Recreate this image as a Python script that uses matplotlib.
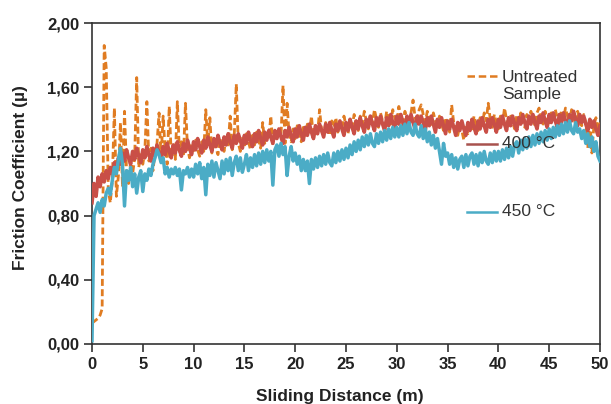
import numpy as np
import matplotlib
matplotlib.use("Agg")
import matplotlib.pyplot as plt
from matplotlib.lines import Line2D

plt.rcParams['font.family'] = ['Liberation Sans', 'DejaVu Sans']

X_STEP = 0.2

untreated = [
    0.13, 0.14, 0.15, 0.16, 0.18, 0.22, 1.86, 1.72, 0.96, 0.88, 1.02, 1.47, 0.92, 1.05, 1.38, 0.98, 1.45, 1.08, 1.00, 1.14, 1.06, 1.16, 1.66, 1.10, 1.18,
    1.12, 1.20, 1.51, 1.14, 1.22, 1.08, 1.19, 1.25, 1.44, 1.16, 1.42, 1.21, 1.12, 1.48, 1.18, 1.24, 1.15, 1.51, 1.20, 1.26, 1.17, 1.50, 1.22, 1.16, 1.25,
    1.19, 1.27, 1.21, 1.17, 1.26, 1.20, 1.46, 1.24, 1.41, 1.19, 1.27, 1.22, 1.18, 1.28, 1.23, 1.20, 1.29, 1.24, 1.42, 1.21, 1.30, 1.62, 1.25, 1.20, 1.29,
    1.23, 1.31, 1.26, 1.21, 1.30, 1.24, 1.32, 1.27, 1.22, 1.38, 1.25, 1.33, 1.28, 1.42, 1.24, 1.32, 1.27, 1.34, 1.29, 1.61, 1.25, 1.50, 1.30, 1.26, 1.34,
    1.28, 1.36, 1.31, 1.26, 1.35, 1.30, 1.37, 1.32, 1.42, 1.28, 1.36, 1.31, 1.46, 1.33, 1.29, 1.38, 1.34, 1.30, 1.39, 1.35, 1.41, 1.32, 1.38, 1.34, 1.42,
    1.36, 1.31, 1.40, 1.35, 1.43, 1.38, 1.33, 1.42, 1.37, 1.45, 1.39, 1.34, 1.43, 1.38, 1.46, 1.40, 1.35, 1.44, 1.39, 1.36, 1.45, 1.40, 1.37, 1.46, 1.41,
    1.38, 1.48, 1.42, 1.37, 1.45, 1.40, 1.36, 1.44, 1.52, 1.41, 1.37, 1.46, 1.49, 1.43, 1.38, 1.45, 1.40, 1.36, 1.44, 1.39, 1.34, 1.42, 1.37, 1.33, 1.41,
    1.36, 1.32, 1.49, 1.38, 1.34, 1.30, 1.37, 1.33, 1.27, 1.35, 1.31, 1.38, 1.34, 1.42, 1.37, 1.33, 1.41, 1.36, 1.44, 1.39, 1.50, 1.40, 1.35, 1.43, 1.38,
    1.34, 1.42, 1.37, 1.47, 1.40, 1.35, 1.43, 1.38, 1.34, 1.42, 1.37, 1.44, 1.39, 1.35, 1.43, 1.38, 1.45, 1.40, 1.36, 1.44, 1.47, 1.41, 1.37, 1.45, 1.40,
    1.36, 1.44, 1.39, 1.46, 1.41, 1.37, 1.45, 1.40, 1.47, 1.42, 1.38, 1.46, 1.41, 1.37, 1.45, 1.40, 1.36, 1.43, 1.38, 1.22, 1.40, 1.19, 1.36, 1.41, 1.33,
    1.38,
]

t400 = [
    0.88, 1.00, 0.92, 1.04, 0.98, 1.06, 1.01, 1.08, 1.03, 1.10, 1.06, 1.13, 1.09, 1.16, 1.12, 1.19, 1.14, 1.21, 1.16, 1.12, 1.20, 1.15, 1.22, 1.17, 1.13,
    1.21, 1.16, 1.23, 1.18, 1.14, 1.22, 1.17, 1.24, 1.19, 1.15, 1.23, 1.18, 1.25, 1.20, 1.16, 1.24, 1.19, 1.26, 1.21, 1.17, 1.25, 1.20, 1.27, 1.22, 1.18,
    1.26, 1.21, 1.28, 1.23, 1.19, 1.27, 1.22, 1.29, 1.24, 1.20, 1.28, 1.23, 1.30, 1.25, 1.21, 1.29, 1.24, 1.31, 1.26, 1.22, 1.30, 1.25, 1.31, 1.27, 1.22,
    1.30, 1.25, 1.32, 1.27, 1.23, 1.31, 1.26, 1.33, 1.28, 1.24, 1.32, 1.27, 1.33, 1.29, 1.25, 1.33, 1.28, 1.34, 1.29, 1.25, 1.33, 1.29, 1.35, 1.30, 1.26,
    1.34, 1.29, 1.36, 1.31, 1.27, 1.35, 1.30, 1.37, 1.32, 1.28, 1.36, 1.31, 1.37, 1.33, 1.29, 1.37, 1.32, 1.38, 1.33, 1.29, 1.37, 1.33, 1.39, 1.34, 1.30,
    1.38, 1.33, 1.40, 1.35, 1.31, 1.39, 1.34, 1.41, 1.36, 1.32, 1.40, 1.35, 1.42, 1.37, 1.33, 1.41, 1.36, 1.42, 1.37, 1.33, 1.41, 1.36, 1.43, 1.38, 1.34,
    1.42, 1.37, 1.43, 1.38, 1.34, 1.42, 1.37, 1.43, 1.38, 1.34, 1.42, 1.37, 1.42, 1.38, 1.33, 1.41, 1.36, 1.42, 1.37, 1.32, 1.40, 1.35, 1.41, 1.36, 1.31,
    1.39, 1.34, 1.40, 1.35, 1.30, 1.38, 1.33, 1.39, 1.34, 1.30, 1.38, 1.33, 1.40, 1.35, 1.31, 1.39, 1.34, 1.41, 1.36, 1.32, 1.40, 1.35, 1.41, 1.37, 1.32,
    1.40, 1.35, 1.42, 1.37, 1.33, 1.41, 1.36, 1.42, 1.37, 1.33, 1.41, 1.37, 1.43, 1.38, 1.34, 1.42, 1.37, 1.43, 1.38, 1.34, 1.42, 1.38, 1.44, 1.39, 1.35,
    1.43, 1.38, 1.44, 1.39, 1.35, 1.43, 1.38, 1.44, 1.39, 1.35, 1.43, 1.39, 1.45, 1.40, 1.36, 1.43, 1.38, 1.42, 1.37, 1.33, 1.40, 1.35, 1.39, 1.34, 1.30,
    1.36,
]

t450 = [
    0.02, 0.80, 0.84, 0.88, 0.82, 0.90, 0.86, 0.94, 0.97, 0.93, 1.02, 1.10, 1.06, 1.15, 1.22, 1.12, 0.86, 1.08, 1.02, 1.10, 0.98, 1.06, 0.94, 1.04, 1.08,
    0.95, 1.06, 1.02, 1.09, 1.05, 1.12, 1.16, 1.21, 1.18, 1.13, 1.16, 1.06, 1.10, 1.04, 1.09, 1.06, 1.10, 1.05, 1.09, 0.96, 1.08, 1.06, 1.10, 1.04, 1.09,
    1.04, 1.12, 1.06, 1.13, 1.03, 1.10, 0.93, 1.12, 1.05, 1.14, 1.04, 1.13, 1.08, 1.03, 1.14, 1.06, 1.15, 1.08, 1.16, 1.05, 1.13, 1.17, 1.08, 1.16, 1.07,
    1.12, 1.18, 1.08, 1.16, 1.10, 1.18, 1.11, 1.19, 1.12, 1.20, 1.13, 1.21, 1.14, 1.20, 0.99, 1.21, 1.24, 1.17, 1.25, 1.18, 1.23, 1.05, 1.17, 1.23, 1.14,
    1.19, 1.12, 1.17, 1.08, 1.15, 1.08, 1.14, 1.00, 1.15, 1.09, 1.16, 1.10, 1.17, 1.11, 1.18, 1.12, 1.19, 1.13, 1.11, 1.19, 1.13, 1.20, 1.14, 1.21, 1.15,
    1.22, 1.16, 1.24, 1.18, 1.26, 1.20, 1.27, 1.21, 1.29, 1.23, 1.30, 1.24, 1.31, 1.25, 1.23, 1.31, 1.25, 1.32, 1.26, 1.33, 1.27, 1.34, 1.28, 1.35, 1.29,
    1.35, 1.29, 1.36, 1.30, 1.37, 1.31, 1.38, 1.32, 1.30, 1.37, 1.31, 1.29, 1.36, 1.28, 1.34, 1.26, 1.32, 1.24, 1.30, 1.22, 1.28, 1.20, 1.12, 1.25, 1.17,
    1.19, 1.12, 1.18, 1.10, 1.16, 1.09, 1.15, 1.17, 1.10, 1.18, 1.11, 1.17, 1.19, 1.12, 1.18, 1.11, 1.19, 1.13, 1.20, 1.14, 1.12, 1.19, 1.13, 1.20, 1.14,
    1.20, 1.14, 1.21, 1.15, 1.22, 1.16, 1.23, 1.17, 1.24, 1.26, 1.19, 1.27, 1.21, 1.28, 1.22, 1.29, 1.23, 1.30, 1.24, 1.31, 1.25, 1.32, 1.26, 1.33, 1.27,
    1.34, 1.28, 1.35, 1.29, 1.36, 1.30, 1.37, 1.31, 1.38, 1.32, 1.39, 1.33, 1.31, 1.38, 1.32, 1.34, 1.28, 1.33, 1.25, 1.31, 1.23, 1.29, 1.20, 1.26, 1.17,
    1.14,
]

labels = ["Untreated\nSample", "400 °C", "450 °C"]
colors = ["#E07C22", "#C94F47", "#4BACC6"]
legend_colors = ["#E07C22", "#A8524E", "#4BACC6"]
x_ticks = [0, 5, 10, 15, 20, 25, 30, 35, 40, 45, 50]
y_ticks = [0.0, 0.4, 0.8, 1.2, 1.6, 2.0]
y_ticklabels = ["0,00", "0,40", "0,80", "1,20", "1,60", "2,00"]

fig = plt.figure(figsize=(6.11, 4.04), dpi=100)
ax = fig.add_axes([92/611, 1-344/404, 508/611, 321/404])

def xs(n):
    return np.round(np.arange(n) * X_STEP, 2)

ax.plot(xs(len(untreated)), untreated, color=colors[0], lw=2.0,
        linestyle=(0, (2.5, 1.2)), zorder=3)
ax.plot(xs(len(t400)), t400, color=colors[1], lw=2.6, zorder=4)
ax.plot(xs(len(t450)), t450, color=colors[2], lw=2.5, zorder=5)

ax.set_xlim(0, 50)
ax.set_ylim(0, 2.0)
ax.set_xticks(x_ticks)
ax.set_yticks(y_ticks)
ax.set_yticklabels(y_ticklabels)
ax.tick_params(axis='both', direction='out', length=6, width=1.2,
               color='#333333', labelsize=12)
ax.tick_params(axis='x', pad=3.5)
ax.tick_params(axis='y', pad=3)
for lab in ax.get_xticklabels() + ax.get_yticklabels():
    lab.set_fontweight('bold')
    lab.set_color('#222222')
for s in ax.spines.values():
    s.set_color('#333333')
    s.set_linewidth(1.2)

ax.set_xlabel("Sliding Distance (m)", fontsize=12.5, fontweight='bold', color='#222222')
ax.xaxis.set_label_coords((340-92)/508, (344-396)/321)
ax.xaxis.label.set_va('center')
ax.set_ylabel("Friction Coefficient (µ)", fontsize=12.5, fontweight='bold', color='#222222')
ax.yaxis.set_label_coords((20-92)/508, (344-178)/321)
ax.yaxis.label.set_va('center')

# legend drawn manually at the reference positions
def px2ax(px, py):
    return (px-92)/508, (344-py)/321

leg_items = [(labels[0], 76, (0, (3, 1.5)), legend_colors[0], 86),
             (labels[1], 144, '-', legend_colors[1], 144),
             (labels[2], 212, '-', legend_colors[2], 212)]
for text, hy, ls, c, ty in leg_items:
    x0, y0 = px2ax(467, hy)
    x1, _ = px2ax(497, hy)
    ax.add_line(Line2D([x0, x1], [y0, y0], transform=ax.transAxes, color=c,
                       lw=1.8, linestyle=ls, zorder=8))
    tx, tyy = px2ax(502, ty)
    ax.text(tx, tyy, text, transform=ax.transAxes, fontsize=12.5,
            color='#333333', va='center', ha='left', zorder=9, linespacing=1.25)

fig.savefig("out.png", dpi=100)
